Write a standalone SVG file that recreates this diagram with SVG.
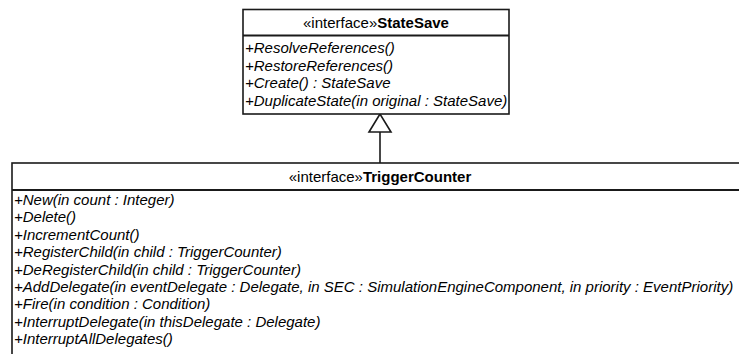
<svg xmlns="http://www.w3.org/2000/svg" width="739" height="354" viewBox="0 0 739 354">
  <defs>
    <style>
      .box { fill: #ffffff; stroke: #1a1a1a; stroke-width: 1.6; }
      .rule { stroke: #1a1a1a; stroke-width: 1.8; fill: none; }
      .hdr { font-family: "Liberation Sans", Arial, sans-serif; font-size: 15px; fill: #000; text-anchor: middle; }
      .hdr .name { font-weight: bold; }
      .op { font-family: "Liberation Sans", Arial, sans-serif; font-size: 15px; font-style: italic; fill: #000; }
      .edge { stroke: #1a1a1a; stroke-width: 1.6; fill: none; }
      .head { stroke: #1a1a1a; stroke-width: 1.6; fill: #ffffff; }
    </style>
  </defs>

  <rect width="739" height="354" fill="#ffffff"/>

  <!-- realization: TriggerCounter extends StateSave -->
  <g id="connectors">
    <line class="edge" x1="380" y1="132" x2="380" y2="163"/>
    <polygon class="head" points="380,114 369,132 391,132"/>
  </g>

  <!-- StateSave interface -->
  <g id="StateSave">
    <rect class="box" x="243" y="9.5" width="266" height="104.5"/>
    <line class="rule" x1="243" y1="35.5" x2="509" y2="35.5"/>
    <text class="hdr" x="376" y="28">«interface»<tspan class="name">StateSave</tspan></text>
    <text class="op" x="245" y="53">+ResolveReferences()</text>
    <text class="op" x="245" y="70.5">+RestoreReferences()</text>
    <text class="op" x="245" y="88">+Create() : StateSave</text>
    <text class="op" x="245" y="105.5">+DuplicateState(in original : StateSave)</text>
  </g>

  <!-- TriggerCounter interface (runs past the right and bottom edges) -->
  <g id="TriggerCounter">
    <rect class="box" x="12" y="163" width="760" height="220"/>
    <line class="rule" x1="12" y1="190" x2="739" y2="190"/>
    <text class="hdr" x="380" y="182">«interface»<tspan class="name">TriggerCounter</tspan></text>
    <text class="op" x="14" y="205">+New(in count : Integer)</text>
    <text class="op" x="14" y="222.4">+Delete()</text>
    <text class="op" x="14" y="239.8">+IncrementCount()</text>
    <text class="op" x="14" y="257.2">+RegisterChild(in child : TriggerCounter)</text>
    <text class="op" x="14" y="274.6">+DeRegisterChild(in child : TriggerCounter)</text>
    <text class="op" x="14" y="292">+AddDelegate(in eventDelegate : Delegate, in SEC : SimulationEngineComponent, in priority : EventPriority)</text>
    <text class="op" x="14" y="309.4">+Fire(in condition : Condition)</text>
    <text class="op" x="14" y="326.8">+InterruptDelegate(in thisDelegate : Delegate)</text>
    <text class="op" x="14" y="344.2">+InterruptAllDelegates()</text>
  </g>
</svg>
